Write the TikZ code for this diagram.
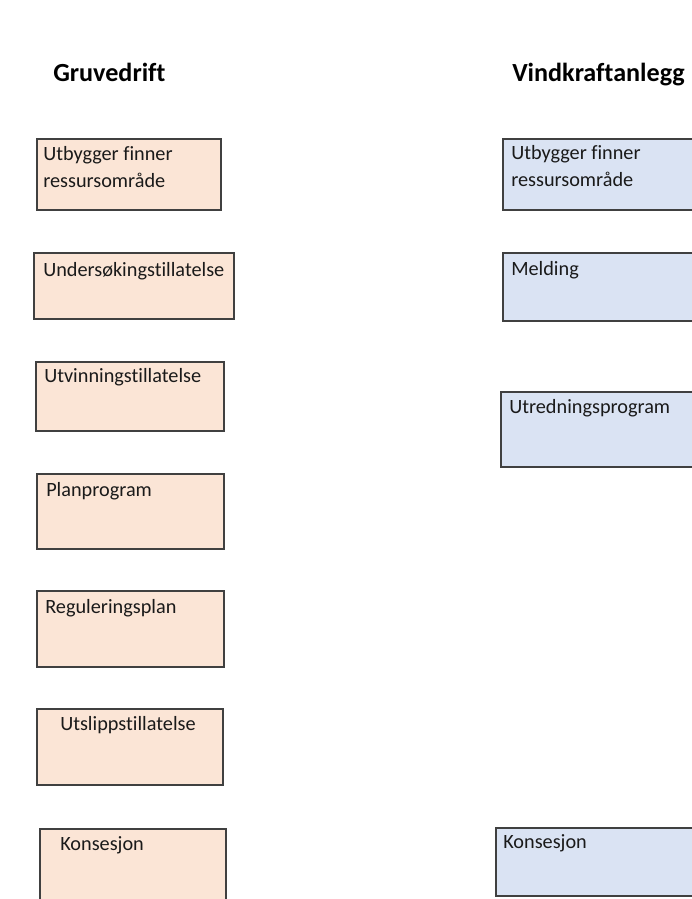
\documentclass[tikz,border=0pt]{standalone}
\usepackage{fontspec}
\setmainfont{Carlito}[Ligatures={NoCommon}]
\usepackage{xcolor}
\usepackage{tikz}
\usetikzlibrary{fit}
\usetikzlibrary{positioning}
\definecolor{peach}{RGB}{251,229,214}
\definecolor{paleblue}{RGB}{218,227,243}
\definecolor{edge}{RGB}{64,64,64}
\definecolor{ink}{RGB}{26,26,26}

\tikzset{
  gbox/.style={draw=edge,fill=peach,line width=1pt,inner sep=0pt},
  vbox/.style={draw=edge,fill=paleblue,line width=1pt,inner sep=0pt},
  boxtext/.style={anchor=base west,inner sep=0pt,text=ink,font=\fontsize{15.2}{20.25}\selectfont,align=left},
  header/.style={anchor=base west,inner sep=0pt,text=black,font=\fontsize{19.6}{23}\selectfont\bfseries}
}

\begin{document}
\begin{tikzpicture}[x=0.75pt,y=-0.75pt]
	\useasboundingbox (0,0) rectangle (692,899);
	\clip (0,0) rectangle (692,899);

	\node [header] (gtitle) at (53,82) {Gruvedrift};
	\node [header] (vtitle) at (512,82) {Vindkraftanlegg};

	% gruvedrift
	\node [gbox,fit={(37,139) (221,210)}] (g1) {};
	\node [gbox,fit={(34,253) (234,319)}] (g2) {};
	\node [gbox,fit={(36,362) (224,431)}] (g3) {};
	\node [gbox,fit={(37,474) (224,549)}] (g4) {};
	\node [gbox,fit={(37,591) (224,667)}] (g5) {};
	\node [gbox,fit={(37,709) (223,785)}] (g6) {};
	\node [gbox,fit={(40,829) (226,915)}] (g7) {};

	\node [boxtext] (g1t) at (43,187) {Utbygger finner\\ressursområde};
	\node [boxtext] (g2t) at (43,276) {Undersøkingstillatelse};
	\node [boxtext] (g3t) at (44,382) {Utvinningstillatelse};
	\node [boxtext] (g4t) at (46,496) {Planprogram};
	\node [boxtext] (g5t) at (45,613) {Reguleringsplan};
	\node [boxtext] (g6t) at (60,730) {Utslippstillatelse};
	\node [boxtext] (g7t) at (60,850) {Konsesjon};

	% vindkraft
	\node [vbox,fit={(503,139) (710,210)}] (v1) {};
	\node [vbox,fit={(503,253) (710,321)}] (v2) {};
	\node [vbox,fit={(501,392) (710,467)}] (v3) {};
	\node [vbox,fit={(496,828) (710,896)}] (v4) {};

	\node [boxtext] (v1t) at (511,186) {Utbygger finner\\ressursområde};
	\node [boxtext] (v2t) at (511,275) {Melding};
	\node [boxtext] (v3t) at (509,413) {Utredningsprogram};
	\node [boxtext] (v4t) at (503,848) {Konsesjon};

\end{tikzpicture}
\end{document}
